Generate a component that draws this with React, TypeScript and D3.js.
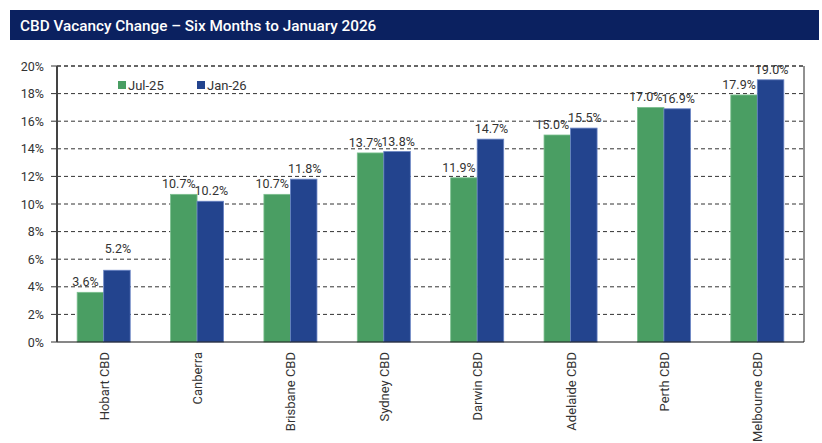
import React from "react";
import * as d3 from "d3";

const categories = ["Hobart CBD", "Canberra", "Brisbane CBD", "Sydney CBD", "Darwin CBD", "Adelaide CBD", "Perth CBD", "Melbourne CBD"];
const jul25 = [3.6, 10.7, 10.7, 13.7, 11.9, 15.0, 17.0, 17.9];
const jan26 = [5.2, 10.2, 11.8, 13.8, 14.7, 15.5, 16.9, 19.0];
const seriesNames = ["Jul-25", "Jan-26"];
const yTicks = [0, 2, 4, 6, 8, 10, 12, 14, 16, 18, 20];

const W = 822, H = 443;
const left = 57, right = 804, top = 66, bottom = 342;
const colors = ["#4a9e63", "#23448e"];
const edgeColors = ["#7cc08f", "#6883c4"];
const labelShift = [-5, 1];
const font = "Roboto, 'Open Sans', sans-serif";

export default function App() {
  const x = d3.scaleBand<string>().domain(categories).range([left, right]).paddingInner(0).paddingOuter(0);
  const y = d3.scaleLinear().domain([0, 20]).range([bottom, top]);
  const barW = x.bandwidth() * 0.284;
  const series = [jul25, jan26];

  return (
    <svg width={W} height={H} style={{ position: "absolute", left: 0, top: 0, background: "#fff" }}>
      <rect x={0} y={0} width={W} height={H} fill="#fff" />
      <rect x={10} y={10} width={809} height={30} fill="#0b2160" />
      <text x={20} y={30.5} fill="#fff" fontFamily={font} fontWeight={500} fontSize={15.3}>
        CBD Vacancy Change – Six Months to January 2026
      </text>

      {yTicks.map((t) => (
        <g key={t}>
          {t > 0 && (
            <line x1={left} x2={right} y1={y(t)} y2={y(t)} stroke="#333" strokeWidth={1} strokeDasharray="4,3" />
          )}
          <line x1={left - 6} x2={left} y1={y(t)} y2={y(t)} stroke="#333" strokeWidth={1} />
          <text x={44} y={y(t) + 4.5} textAnchor="end" fontFamily={font} fontSize={12.5} fill="#333">
            {t}%
          </text>
        </g>
      ))}

      {categories.map((c, i) => {
        const cx = (x(c) as number) + x.bandwidth() / 2;
        return (
          <g key={c}>
            {series.map((s, k) => {
              const bx = cx - barW + k * barW;
              return (
                <rect key={k} x={bx} y={y(s[i])} width={barW} height={bottom - y(s[i])} fill={colors[k]} stroke={edgeColors[k]} strokeWidth={0.8} />
              );
            })}
            {series.map((s, k) => {
              const lx = cx - barW / 2 + k * barW + labelShift[k];
              const raise = i === 0 && k === 1 ? 11 : 0;
              return (
                <text key={"l" + k} x={lx} y={y(s[i]) - 6 - raise} textAnchor="middle" fontFamily={font} fontSize={12.5} fill="#333">
                  {s[i].toFixed(1)}%
                </text>
              );
            })}
            <text transform={`translate(${cx + 5},${bottom + 10}) rotate(-90)`} textAnchor="end" fontFamily={font} fontSize={13} fill="#333">
              {c}
            </text>
          </g>
        );
      })}

      <line x1={left} x2={right} y1={top} y2={top} stroke="#333" strokeDasharray="4,3" />
      <line x1={right} x2={right} y1={top} y2={bottom} stroke="#222" strokeWidth={1} />
      <line x1={left} x2={right} y1={bottom} y2={bottom} stroke="#111" strokeWidth={1.2} />
      <line x1={left} x2={left} y1={top} y2={bottom} stroke="#444" strokeWidth={2} />

      {seriesNames.map((n, k) => (
        <g key={n} transform={`translate(${118 + k * 79},81)`}>
          <rect x={0} y={0} width={8} height={8} fill={colors[k]} />
          <text x={10} y={9} fontFamily={font} fontSize={13} fill="#333">
            {n}
          </text>
        </g>
      ))}
    </svg>
  );
}
